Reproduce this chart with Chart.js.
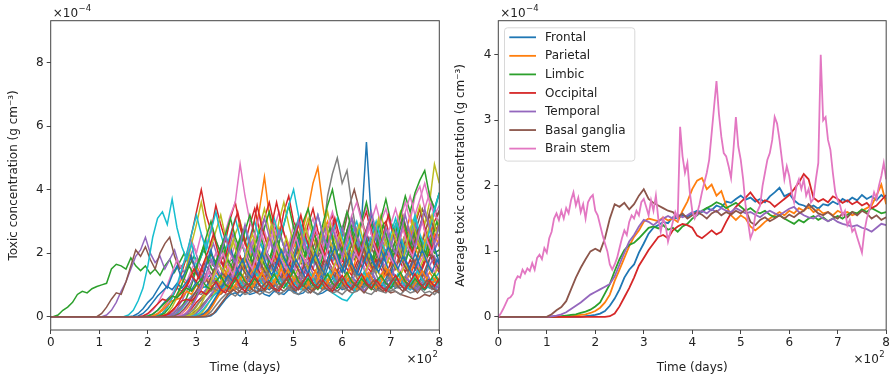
<!DOCTYPE html>
<html>
<head>
<meta charset="utf-8">
<script src="https://cdn.jsdelivr.net/npm/chart.js@4.4.1/dist/chart.umd.min.js"></script>
<style>
  body { margin: 0; background: #fff; }
  #wrap { position: relative; width: 892px; height: 379px; }
  canvas { position: absolute; top: 0; }
  #regions { left: 0; }
  #averages { left: 450px; }
</style>
</head>
<body>
<div id="wrap">
  <canvas id="regions" width="450" height="379"></canvas>
  <canvas id="averages" width="442" height="379"></canvas>
</div>
<script>
Chart.defaults.font.family = "'DejaVu Sans', sans-serif";
Chart.defaults.font.size = 12;
Chart.defaults.color = '#222';

// matplotlib tab10 colour cycle
const tab10 = ['#1f77b4', '#ff7f0e', '#2ca02c', '#d62728', '#9467bd',
               '#8c564b', '#e377c2', '#7f7f7f', '#bcbd22', '#17becf'];

// Axis ticks (days, and concentration in units of 1e-4 g/cm^3)
const dayTicks = [0, 100, 200, 300, 400, 500, 600, 700, 800];
const regionTicks = [0, 2, 4, 6, 8];
const averageTicks = [0, 1, 2, 3, 4];

// Per-region curves: day the toxic load first appears, then values every 10 days after it
const regionStep = 10;
const regionOnsets = [190, 200, 5, 210, 105, 95, 180, 230, 220, 150,
                      320, 250, 240, 260, 230, 270, 200, 280, 290, 240,
                      170, 300, 260, 180, 280, 300, 250, 310, 270, 210,
                      160, 200, 215, 225, 235, 245, 255, 265, 275, 285,
                      295, 305, 190, 220, 260, 315];

const regionValues = [
  [0.02,0.08,0.2,0.38,0.55,0.7,0.9,0.8,1.0,0.85,1.1,0.9,0.95,1.2,1.0,0.85,0.9,1.1,1.3,1.0,
   0.9,0.8,1.0,1.15,0.95,0.85,1.0,1.2,1.4,1.1,0.9,0.85,1.0,0.95,1.2,1.05,0.9,1.1,1.3,1.0,
   0.85,0.9,1.1,1.0,0.9,1.2,1.0,0.85,0.95,1.1,0.9,1.0,1.2,0.95,0.85,1.0,0.9,1.1,0.95,1.0,0.9],
  [0.03,0.1,0.25,0.45,0.7,0.9,1.2,1.0,1.4,1.6,1.3,1.8,2.0,1.6,2.2,1.9,1.5,1.8,2.4,2.0,
   1.7,2.6,3.4,4.4,3.2,2.5,2.8,2.2,1.8,2.4,2.9,2.3,2.0,1.7,2.2,2.6,3.0,2.4,2.0,1.8,
   2.3,2.7,2.1,1.9,2.5,3.1,2.6,2.2,1.8,2.4,2.8,2.2,2.6,3.2,2.5,2.1,2.7,3.0,2.4,2.6],
  [0.05,0.2,0.3,0.45,0.7,0.8,0.75,0.88,0.95,1.0,1.05,1.5,1.65,1.6,1.5,1.85,1.6,1.45,1.6,1.35,
   1.5,1.3,1.6,1.8,1.4,1.7,2.0,1.6,1.9,1.7,2.1,1.8,1.6,1.9,2.2,1.7,1.8,2.0,1.6,1.9,
   2.3,1.8,1.7,2.0,1.8,2.2,1.9,1.6,2.0,2.4,1.9,1.7,2.1,1.8,2.0,2.3,1.8,1.9,2.2,1.7,
   2.0,1.8,2.1,2.4,1.9,1.7,2.0,2.2,1.8,2.1,1.9,2.3,2.0,1.8,2.2,1.9,2.1,2.4,1.9,2.0],
  [0.03,0.1,0.3,0.6,0.9,1.4,1.9,2.6,3.3,4.0,3.2,2.7,3.5,2.9,2.4,3.1,3.6,2.8,2.3,2.9,
   3.4,2.7,3.1,3.6,2.9,2.5,3.3,3.8,3.0,2.6,2.2,2.9,3.4,2.7,2.3,2.8,3.2,2.6,2.1,2.7,
   3.1,2.5,2.9,3.3,2.6,2.2,2.8,3.0,2.4,2.9,3.2,2.6,2.3,2.9,3.4,2.7,2.4,3.0,3.3,2.8],
  [0.05,0.2,0.45,0.8,1.1,1.5,1.9,2.1,2.5,2.0,1.7,1.9,1.5,1.8,2.1,1.6,1.4,1.8,2.2,1.7,
   1.5,1.9,2.3,1.8,1.6,2.0,2.6,2.1,1.7,1.9,2.4,2.0,1.6,2.2,2.7,2.1,1.8,2.3,1.9,1.6,
   2.1,2.5,2.0,1.7,2.3,2.8,2.2,1.9,2.4,2.0,2.6,3.0,2.4,2.0,2.5,2.2,1.8,2.3,2.7,2.1,
   1.9,2.4,2.8,2.2,2.6,3.1,2.5,2.0,2.3,2.6],
  [0.1,0.3,0.55,0.75,0.7,1.1,1.6,2.1,1.9,2.2,1.8,1.5,2.0,2.3,2.5,1.9,1.5,1.7,2.0,1.6,
   1.3,1.7,1.5,1.2,1.6,1.9,1.4,1.2,1.5,1.8,1.4,1.6,2.0,1.5,1.3,1.7,2.1,1.6,1.4,1.8,
   2.2,1.7,1.5,1.9,2.4,1.8,1.6,2.0,2.6,2.2,2.8,3.5,4.0,3.4,2.8,2.4,2.0,2.5,2.1,1.8,
   2.2,2.7,3.2,2.6,2.3,2.9,3.4,3.0,3.6,3.2,3.5],
  [0.02,0.08,0.2,0.4,0.7,1.0,1.4,1.8,1.5,2.0,2.4,2.0,2.6,2.2,2.8,2.4,2.0,2.7,3.2,3.6,
   4.8,3.8,3.0,2.6,3.2,2.7,2.2,2.8,3.3,2.6,2.2,2.9,2.5,2.1,2.7,3.1,2.5,2.0,2.6,3.0,
   2.4,2.8,3.3,2.7,2.3,2.9,3.5,2.8,2.4,3.0,3.4,2.8,2.5,3.1,3.6,3.0,3.8,4.1,3.4,3.9,3.2,3.0],
  [0.02,0.08,0.2,0.35,0.5,0.62,0.75,0.7,0.85,0.8,0.95,0.85,0.9,0.8,0.95,0.9,1.05,0.85,0.95,0.8,
   0.9,1.0,0.85,0.95,1.1,0.9,0.8,0.95,0.85,0.9,1.0,1.4,2.4,3.8,4.5,5.0,4.2,4.6,3.5,2.6,
   1.8,1.2,0.9,1.0,0.85,0.95,0.8,0.9,1.0,0.85,0.95,1.1,0.9,0.85,1.0,0.9,0.95],
  [0.03,0.1,0.3,0.6,1.0,1.6,2.3,2.9,3.6,2.8,2.2,2.7,3.2,2.5,2.0,2.6,3.0,2.4,1.9,2.3,
   2.8,3.4,2.7,2.2,3.0,3.6,2.9,2.3,2.0,2.6,3.1,2.5,2.1,2.7,3.3,2.6,2.2,2.8,2.4,2.0,
   2.5,3.0,2.4,2.1,2.7,3.2,2.6,2.2,2.8,3.3,2.7,2.4,3.0,3.5,2.9,3.6,4.8,4.2],
  [0.05,0.2,0.5,0.9,1.6,2.5,3.1,3.3,2.9,3.7,2.8,2.2,1.8,2.3,1.6,1.9,2.4,1.8,1.5,2.0,
   2.6,2.1,1.7,2.2,2.8,2.2,1.8,2.4,2.0,1.6,2.1,2.7,2.2,1.9,2.5,3.1,2.4,2.0,1.7,2.2,
   2.6,2.1,1.8,2.3,2.8,2.2,1.9,2.4,2.0,1.7,2.2,2.7,2.1,1.8,2.3,2.9,2.4,2.0,2.6,3.1,
   2.5,2.1,2.7,3.3,3.9],
  [0.03,0.15,0.35,0.55,0.7,0.75,0.65,0.8,0.7,0.75,0.85,0.7,0.65,0.8,0.75,0.7,0.85,0.8,0.7,0.75,
   0.9,0.8,0.7,0.75,0.85,0.8,0.9,1.0,1.3,1.8,2.4,3.0,5.5,3.1,2.4,1.8,1.4,1.1,0.9,1.0,
   0.85,0.95,0.8,0.9,0.85,1.0,0.9,0.75],
  [0.02,0.1,0.25,0.45,0.7,0.95,1.2,1.0,1.4,1.2,1.6,1.3,1.1,1.5,1.8,1.4,1.2,1.6,1.3,1.8,
   2.2,1.7,1.4,1.9,2.4,2.0,2.8,3.4,4.2,4.7,3.5,2.6,2.0,1.6,2.1,1.7,1.4,1.9,2.3,1.8,
   1.5,2.0,2.5,1.9,1.6,2.1,1.7,2.2,2.8,2.2,1.8,2.4,2.0,2.6,2.2],
  [0.03,0.12,0.3,0.6,1.0,1.5,2.0,2.5,3.0,2.4,2.0,2.6,3.1,2.5,2.1,2.7,3.2,2.6,2.2,2.8,
   3.3,2.7,2.3,2.9,3.5,2.8,2.4,3.0,3.4,2.7,2.3,2.9,3.5,4.0,3.2,2.7,3.3,2.8,2.4,3.0,
   3.6,2.9,2.5,3.1,3.7,3.0,2.6,3.2,3.8,3.3,3.9,4.3,4.6,3.8,3.4,3.9],
  [0.02,0.1,0.25,0.45,0.6,0.8,1.0,1.2,0.95,1.3,1.1,1.5,1.2,1.0,1.4,1.7,1.3,1.1,1.5,1.8,
   1.4,1.2,1.6,1.9,1.5,1.3,1.7,2.0,1.6,1.3,1.8,1.5,1.2,1.6,1.9,1.5,1.3,1.7,2.1,1.6,
   1.4,1.8,1.5,1.2,1.6,2.0,1.6,1.3,1.7,1.4,1.8,2.2,1.7,1.5],
  [0.03,0.1,0.25,0.5,0.8,1.1,1.5,1.2,1.7,2.0,1.6,1.3,1.8,2.2,1.7,1.4,1.9,2.4,1.8,1.5,
   2.0,2.5,1.9,1.6,2.1,1.7,1.4,1.9,2.3,1.8,1.5,2.0,2.6,2.1,1.7,2.2,2.8,2.2,1.8,2.3,
   1.9,1.6,2.1,2.6,2.0,1.7,2.2,2.7,2.1,1.8,2.3,2.9,2.3,1.9,2.5,2.1,2.4],
  [0.02,0.08,0.2,0.35,0.5,0.65,0.75,0.7,0.85,0.75,0.9,0.8,0.75,0.9,1.0,0.85,0.8,0.95,1.1,0.9,
   0.8,0.95,0.85,1.0,1.15,0.9,0.8,0.95,0.85,1.0,0.9,0.8,0.95,1.05,0.85,0.8,0.95,1.1,0.9,0.8,
   0.95,0.85,0.75,0.8,0.7,0.65,0.6,0.55,0.6,0.7,0.65,0.8,0.75],
  [0.02,0.08,0.2,0.4,0.7,1.0,1.3,1.1,1.5,1.8,1.4,1.2,1.6,2.0,1.5,1.3,1.8,2.3,1.8,1.5,
   2.0,2.6,2.1,1.7,2.2,2.8,2.2,1.8,2.3,1.9,1.6,2.1,2.6,2.0,1.7,2.2,2.8,3.3,2.7,2.2,
   2.7,3.2,3.6,3.0,2.5,3.0,3.5,2.9,2.4,2.9,3.4,2.8,3.3,3.8,3.2,3.7,4.2,3.6,3.2,3.5],
  [0.03,0.12,0.3,0.5,0.7,0.85,0.8,0.95,0.85,1.0,1.15,0.95,0.85,1.05,1.2,1.0,0.9,1.1,1.25,1.0,
   0.9,1.1,0.95,0.85,1.0,1.2,1.0,0.9,1.1,1.3,1.05,0.9,1.0,1.15,0.95,0.85,1.0,1.2,1.0,0.9,
   1.05,1.25,1.0,0.9,1.1,0.95,0.85,1.0,1.15,0.95,0.85,1.0],
  [0.03,0.1,0.3,0.55,0.8,1.0,1.3,1.1,1.5,1.8,1.4,1.2,1.6,2.0,1.6,1.3,1.7,2.2,1.8,1.4,
   1.9,2.4,1.9,1.5,2.0,1.7,1.4,1.8,2.3,1.9,1.5,2.0,2.5,2.0,1.6,2.1,1.7,1.4,1.9,2.4,
   1.9,1.5,2.0,2.6,2.1,1.7,2.2,1.8,2.3,2.9,2.4],
  [0.02,0.1,0.25,0.45,0.65,0.8,1.0,0.9,1.1,1.3,1.0,0.9,1.2,1.4,1.1,0.95,1.2,1.5,1.2,1.0,
   1.3,1.1,0.9,1.2,1.5,1.2,1.0,1.3,1.1,0.9,1.1,1.0,0.85,0.75,0.65,0.55,0.5,0.7,0.9,1.1,
   1.3,1.0,0.9,1.2,1.4,1.1,0.95,1.2,1.0,0.85,1.1,1.3,1.0,0.9,1.2,1.4],
  [0.02,0.1,0.25,0.45,0.65,0.8,0.95,0.85,1.05,0.9,1.1,1.3,1.0,0.9,1.15,1.35,1.1,0.95,1.2,1.45,
   1.15,1.0,1.25,1.1,0.9,1.15,1.4,1.1,0.95,1.2,1.5,1.2,1.0,1.25,1.05,0.9,1.15,1.4,1.1,0.95,
   1.2,1.45,1.15,1.0,1.25,1.1,0.9,1.15,1.4,1.1,0.95,1.2,1.5,1.2,1.0,1.25,1.05,0.9,1.15,1.4,
   1.1,0.95,1.2],
  [0.03,0.15,0.35,0.55,0.75,0.9,0.8,1.0,1.2,0.95,0.85,1.1,1.3,1.0,0.9,1.15,1.4,1.1,0.95,1.2,
   1.0,0.85,1.1,1.35,1.05,0.9,1.15,1.4,1.1,0.95,1.2,1.0,0.85,1.1,1.35,1.05,0.9,1.15,1.45,1.15,
   1.0,1.25,1.05,0.9,1.15,1.4,1.1,0.95,1.2,1.0],
  [0.03,0.12,0.35,0.7,1.1,1.6,2.0,1.7,2.2,1.8,1.5,2.0,2.5,2.0,1.7,2.2,2.7,2.1,1.8,2.3,
   1.9,1.6,2.1,2.6,2.1,1.8,2.3,2.8,2.2,1.9,2.4,2.0,1.7,2.2,2.7,2.2,1.9,2.4,2.0,1.7,
   2.2,2.8,2.3,1.9,2.4,2.0,1.7,2.2,2.7,2.2,1.9,2.4,2.0,2.1],
  [0.02,0.1,0.25,0.4,0.55,0.5,0.65,0.6,0.8,1.0,1.3,1.1,1.5,1.3,1.1,1.5,1.8,1.4,1.2,1.6,
   1.9,1.5,1.3,1.7,1.4,1.2,1.6,2.0,1.6,1.3,1.7,1.4,1.2,1.6,1.9,1.5,1.3,1.7,2.1,1.7,
   1.4,1.8,1.5,1.3,1.7,2.0,1.6,1.4,1.8,1.5,1.3,1.7,2.1,1.7,1.4,1.8,1.5,1.3,1.7,2.0,1.6,1.4],
  [0.02,0.1,0.25,0.45,0.7,0.9,1.1,0.95,1.25,1.5,1.2,1.0,1.35,1.6,1.3,1.1,1.45,1.7,1.35,1.15,
   1.5,1.25,1.05,1.4,1.7,1.35,1.15,1.5,1.8,1.45,1.2,1.55,1.3,1.1,1.45,1.75,1.4,1.2,1.55,1.85,
   1.5,1.25,1.6,1.35,1.15,1.5,1.8,1.45,1.25,1.6,1.9,1.5],
  [0.02,0.1,0.3,0.55,0.85,1.1,1.4,1.2,1.6,1.9,1.5,1.3,1.7,2.1,1.7,1.4,1.8,1.5,1.3,1.7,
   2.2,1.8,1.5,1.9,2.4,1.9,1.6,2.0,1.7,1.4,1.8,2.3,1.9,1.6,2.0,2.5,2.0,1.7,2.1,1.8,
   1.5,1.9,2.4,2.0,1.7,2.1,2.6,3.2,2.7,2.9],
  [0.02,0.1,0.3,0.55,0.8,1.0,1.3,1.1,1.5,1.3,1.1,1.5,1.8,1.4,1.2,1.6,1.9,1.5,1.3,1.7,
   1.4,1.2,1.6,2.0,1.6,1.3,1.7,1.4,1.2,1.6,2.0,1.6,1.4,1.8,1.5,1.3,1.7,2.1,1.7,1.4,
   1.8,1.5,1.3,1.7,2.1,1.7,1.4,1.8,1.5,1.3,1.7,2.0,1.6,1.4,1.8],
  [0.03,0.15,0.35,0.55,0.7,0.75,0.65,0.8,0.7,0.75,0.85,0.7,0.8,0.75,0.85,0.7,0.8,0.9,0.75,0.7,
   0.85,0.75,0.8,0.7,0.85,0.9,0.75,0.8,0.7,0.85,0.75,0.8,0.9,0.75,0.7,0.85,0.8,0.75,0.9,0.8,
   0.7,0.85,0.75,0.8,0.9,0.75,0.8,0.7,0.85],
  [0.02,0.1,0.3,0.55,0.8,1.0,1.2,1.0,1.35,1.6,1.3,1.1,1.45,1.75,1.4,1.2,1.55,1.3,1.1,1.45,
   1.8,1.45,1.2,1.55,1.9,1.5,1.25,1.6,1.35,1.15,1.5,1.85,1.5,1.25,1.6,1.35,1.15,1.5,1.85,1.5,
   1.25,1.6,1.95,1.55,1.3,1.65,1.4,1.2,1.55,1.9,1.5,1.3,1.65],
  [0.03,0.1,0.3,0.6,1.0,1.5,2.0,2.6,3.2,2.6,2.1,2.7,3.3,2.6,2.1,2.6,3.1,2.5,2.0,2.5,
   3.0,2.4,2.0,2.6,3.1,2.5,2.9,3.5,4.0,3.2,2.6,2.2,2.7,3.2,2.6,2.1,2.6,3.1,2.5,2.1,
   2.6,3.0,2.4,2.0,2.5,3.0,2.4,2.0,2.6,3.1,2.5,2.1,2.7,3.2,2.6,2.2,2.8,3.4,3.9],
  [0.02,0.1,0.25,0.45,0.6,0.85,1.1,0.9,1.3,1.6,1.2,1.5,1.9,1.4,1.1,1.6,2.1,1.5,1.2,1.7,
   2.2,1.6,1.3,1.9,1.5,1.2,1.7,2.3,1.8,1.4,1.9,1.5,1.2,1.8,2.4,1.7,1.3,1.9,1.5,1.2,
   1.8,2.3,1.7,1.4,2.0,1.6,1.3,1.9,2.5,1.8,1.5,2.1,1.7,1.3,1.9,2.4,1.8,1.5,2.0,1.6,
   1.3,1.8,2.2,1.7],
  [0.02,0.08,0.2,0.35,0.5,0.55,0.6,0.8,0.7,1.0,0.85,1.2,0.95,0.8,1.1,1.4,1.0,0.85,1.2,0.9,
   1.3,1.6,1.2,0.95,1.3,1.1,0.9,1.25,1.5,1.15,0.95,1.3,1.05,0.85,1.2,1.5,1.1,0.9,1.25,1.0,
   1.35,1.6,1.2,1.0,1.35,1.1,0.9,1.3,1.55,1.15,0.95,1.3,1.05,1.4,1.7,1.3,1.05,1.4,1.15,1.0],
  [0.03,0.12,0.3,0.55,0.85,1.2,1.6,1.3,1.8,2.2,1.7,1.4,1.9,2.4,1.8,1.5,2.1,2.7,2.1,1.7,
   2.2,1.8,1.5,2.0,2.5,2.0,1.7,2.3,2.9,2.3,1.9,2.4,2.0,1.6,2.2,2.8,2.2,1.8,2.4,3.0,
   2.4,2.0,2.6,2.1,1.8,2.3,2.9,2.3,1.9,2.5,3.1,2.5,2.1,2.7,2.2,1.9,2.5,3.0,2.4],
  [0.02,0.1,0.25,0.5,0.8,1.1,1.5,1.2,1.7,2.1,2.6,2.0,1.6,2.2,2.8,3.3,2.6,2.1,2.7,3.5,
   2.8,2.3,2.9,3.6,2.9,2.4,2.0,2.6,3.2,2.5,2.1,2.7,2.3,1.9,2.5,3.1,2.5,2.1,2.7,2.3,
   1.9,2.5,3.0,2.4,2.0,2.6,3.2,2.6,2.2,2.8,2.4,2.0,2.6,3.1,2.5,2.1,2.7,3.2],
  [0.02,0.08,0.2,0.38,0.55,0.7,0.85,0.75,0.95,1.15,0.9,0.8,1.05,1.3,1.0,0.85,1.1,1.35,1.05,0.9,
   1.15,0.95,0.8,1.05,1.3,1.0,0.9,1.15,1.4,1.1,0.95,1.2,1.0,0.85,1.1,1.35,1.05,0.9,1.15,0.95,
   0.8,1.05,1.3,1.0,0.9,1.15,1.4,1.1,0.95,1.2,1.0,0.85,1.1,1.35,1.05,0.9,1.15],
  [0.02,0.1,0.25,0.45,0.7,0.95,1.25,1.05,1.45,1.75,1.35,1.15,1.55,1.9,1.5,1.25,1.65,2.0,1.6,1.3,
   1.7,1.4,1.2,1.6,2.0,1.6,1.3,1.75,2.1,1.7,1.4,1.8,1.5,1.25,1.65,2.05,1.65,1.35,1.75,2.15,
   1.75,1.45,1.85,1.5,1.3,1.7,2.1,1.7,1.4,1.8,1.5,1.25,1.65,2.0,1.6,1.35],
  [0.02,0.08,0.22,0.45,0.75,1.05,1.4,1.2,1.6,2.0,1.6,1.3,1.8,2.3,1.8,1.5,2.0,2.6,2.0,1.7,
   2.2,1.8,1.5,2.0,2.5,2.0,1.7,2.2,2.8,2.2,1.8,2.4,2.0,1.6,2.1,2.7,2.1,1.8,2.3,2.9,
   2.3,1.9,2.5,2.0,1.7,2.2,2.8,2.2,1.9,2.4,3.0,2.4,2.0,2.6,2.1],
  [0.02,0.1,0.25,0.45,0.6,0.75,0.9,0.8,1.0,1.2,0.95,0.85,1.1,1.35,1.05,0.9,1.15,1.4,1.1,0.95,
   1.2,1.0,0.85,1.1,1.35,1.05,0.9,1.15,1.45,1.15,0.95,1.2,1.0,0.85,1.1,1.4,1.1,0.95,1.2,1.5,
   1.15,1.0,1.25,1.05,0.9,1.15,1.4,1.1,0.95,1.2,1.0,0.85,1.1,1.3],
  [0.02,0.1,0.28,0.55,0.9,1.3,1.7,1.4,1.9,2.4,1.9,1.6,2.1,2.6,2.1,1.7,2.3,2.9,2.3,1.9,
   2.5,2.0,1.7,2.2,2.8,2.2,1.8,2.4,3.0,2.4,2.0,2.6,2.1,1.7,2.3,2.9,2.3,1.9,2.5,3.1,
   2.5,2.1,2.7,2.2,1.8,2.4,3.0,2.4,2.0,2.6,3.2,2.6,3.4],
  [0.02,0.1,0.25,0.45,0.65,0.8,0.95,0.85,1.05,1.25,1.0,0.85,1.1,1.35,1.05,0.9,1.15,1.4,1.1,0.95,
   1.2,1.0,0.85,1.1,1.35,1.05,0.9,1.15,1.45,1.15,0.95,1.2,1.0,0.85,1.1,1.4,1.1,0.95,1.2,1.0,
   0.85,1.1,1.35,1.05,0.9,1.15,1.45,1.15,0.95,1.2,1.0,1.3],
  [0.02,0.1,0.25,0.5,0.75,1.0,1.3,1.1,1.5,1.8,1.4,1.2,1.6,2.0,1.6,1.3,1.7,2.1,1.7,1.4,
   1.8,1.5,1.2,1.6,2.0,1.6,1.3,1.8,2.2,1.7,1.4,1.9,1.5,1.3,1.7,2.1,1.7,1.4,1.8,2.2,
   1.8,1.5,1.9,1.6,1.3,1.7,2.1,1.7,1.4,1.8,1.5],
  [0.03,0.15,0.38,0.65,0.85,1.0,0.9,1.1,1.3,1.05,0.9,1.15,1.4,1.1,0.95,1.2,1.5,1.15,1.0,1.25,
   1.05,0.9,1.15,1.45,1.1,0.95,1.2,1.5,1.2,1.0,1.25,1.05,0.9,1.15,1.4,1.1,0.95,1.2,1.5,1.2,
   1.0,1.25,1.05,0.9,1.15,1.45,1.15,1.0,1.25,1.05],
  [0.02,0.08,0.2,0.35,0.5,0.65,0.6,0.75,0.9,0.8,1.0,1.2,0.95,0.85,1.1,1.3,1.0,0.9,1.15,1.4,
   1.1,0.95,1.2,1.0,0.85,1.1,1.35,1.05,0.9,1.15,1.45,1.1,0.95,1.2,1.0,0.85,1.1,1.35,1.05,0.9,
   1.15,1.4,1.1,0.95,1.2,1.0,0.85,1.1,1.3,1.05,0.9,1.15,1.4,1.1,0.95,1.2,1.0,0.85,1.1,1.35,1.05],
  [0.02,0.08,0.2,0.35,0.5,0.55,0.5,0.65,0.8,0.7,0.9,1.1,0.85,0.75,1.0,1.25,0.95,0.8,1.05,1.3,
   1.0,0.85,1.1,0.9,0.8,1.05,1.3,1.0,0.85,1.1,1.35,1.05,0.9,1.15,0.95,0.8,1.05,1.3,1.0,0.85,
   1.1,1.35,1.05,0.9,1.15,0.95,0.8,1.05,1.3,1.0,0.85,1.1,1.35,1.05,0.9,1.15,0.95,1.2],
  [0.02,0.1,0.3,0.6,0.95,1.35,1.8,1.5,2.0,2.5,2.0,1.7,2.3,2.9,2.3,1.9,2.5,3.1,2.5,2.1,
   2.7,2.2,1.9,2.5,3.0,2.4,2.0,2.6,3.2,2.6,2.2,2.8,2.3,1.9,2.5,3.1,2.5,2.1,2.7,3.3,
   2.7,2.2,2.8,2.3,2.0,2.6,3.2,2.6,2.2,2.8,3.4,2.8,2.3,2.9],
  [0.02,0.1,0.3,0.5,0.7,0.85,0.75,0.9,1.05,0.85,0.75,0.95,1.1,0.9,0.8,1.0,1.2,0.95,0.8,1.05,
   0.9,0.75,0.95,1.15,0.9,0.8,1.0,1.2,0.95,0.8,1.05,0.9,0.75,0.95,1.15,0.9,0.8,1.0,1.2,0.95,
   0.8,1.05,0.9,0.75,0.95,1.15,0.9,0.8,1.0]
];

// Lobe averages, sampled every 10 days from day 0
const lobeStep = 10;
const lobeNames = ['Frontal', 'Parietal', 'Limbic', 'Occipital', 'Temporal', 'Basal ganglia', 'Brain stem'];

const frontal = [0,0,0,0,0,0,0,0,0,0,0,0,0,0,0,0,0,0,
  0.01,0.02,0.03,0.05,0.09,0.17,0.28,0.42,0.6,0.72,0.8,0.98,1.12,1.27,1.36,1.4,1.45,1.43,1.52,1.5,
  1.55,1.53,1.58,1.62,1.6,1.66,1.63,1.7,1.67,1.76,1.74,1.8,1.85,1.79,1.82,1.76,1.8,1.75,1.84,1.9,
  1.97,1.84,1.88,1.78,1.72,1.7,1.66,1.7,1.65,1.72,1.7,1.76,1.72,1.8,1.76,1.82,1.78,1.86,1.8,1.84,
  1.78,1.86,1.8];
const parietal = [0,0,0,0,0,0,0,0,0,0,0,0,0,0,0,
  0.01,0.02,0.03,0.04,0.06,0.09,0.14,0.22,0.34,0.55,0.72,0.9,1.08,1.22,1.32,1.45,1.5,1.48,1.46,1.52,
  1.47,1.5,1.45,1.62,1.76,1.95,2.08,2.12,1.95,2.02,1.85,1.92,1.7,1.55,1.48,1.55,1.5,1.38,1.32,1.38,
  1.45,1.5,1.55,1.6,1.55,1.62,1.58,1.66,1.62,1.68,1.6,1.64,1.58,1.6,1.55,1.62,1.58,1.6,1.55,1.58,
  1.62,1.66,1.7,1.85,2.02,1.72];
const limbic = [0,0,0,0,0,0,0,0,0,0,0,0,0,
  0.01,0.02,0.03,0.04,0.06,0.08,0.11,0.16,0.22,0.36,0.5,0.7,0.88,1.02,1.1,1.13,1.2,1.28,1.36,1.38,
  1.35,1.4,1.33,1.36,1.3,1.38,1.42,1.5,1.55,1.62,1.66,1.7,1.75,1.72,1.66,1.7,1.74,1.68,1.62,1.66,
  1.6,1.58,1.62,1.56,1.52,1.55,1.5,1.46,1.42,1.48,1.44,1.5,1.54,1.48,1.52,1.46,1.5,1.54,1.5,1.56,
  1.6,1.58,1.64,1.6,1.66,1.62,1.58,1.6];
const occipital = [0,0,0,0,0,0,0,0,0,0,0,0,0,0,0,0,0,0,0,0,0,0,0,
  0.01,0.05,0.16,0.3,0.44,0.6,0.78,0.9,1.02,1.12,1.22,1.25,1.2,1.32,1.38,1.42,1.4,1.36,1.24,1.2,
  1.26,1.32,1.26,1.3,1.45,1.58,1.68,1.75,1.82,1.9,1.8,1.72,1.78,1.75,1.68,1.74,1.8,1.86,1.95,2.05,
  2.18,2.1,1.82,1.76,1.8,1.75,1.84,1.8,1.74,1.78,1.72,1.76,1.7,1.74,1.66,1.7,1.78,1.86];
const temporal = [0,0,0,0,0,0,0,0,0,0,0,
  0.01,0.02,0.04,0.07,0.12,0.17,0.22,0.28,0.34,0.38,0.42,0.46,0.5,0.62,0.8,0.98,1.15,1.25,1.38,1.48,
  1.45,1.4,1.46,1.5,1.54,1.5,1.56,1.52,1.55,1.6,1.56,1.62,1.58,1.64,1.6,1.66,1.62,1.6,1.66,1.62,
  1.58,1.6,1.56,1.52,1.58,1.62,1.58,1.55,1.6,1.65,1.68,1.6,1.55,1.52,1.5,1.55,1.5,1.46,1.5,1.45,
  1.42,1.4,1.38,1.4,1.36,1.34,1.3,1.36,1.42,1.4];
const basalGanglia = [0,0,0,0,0,0,0,0,0,0,0,
  0.04,0.1,0.15,0.24,0.42,0.6,0.75,0.88,1.0,1.04,1.0,1.2,1.5,1.72,1.68,1.74,1.64,1.72,1.85,1.95,
  1.8,1.74,1.7,1.66,1.62,1.6,1.52,1.58,1.5,1.55,1.6,1.56,1.5,1.58,1.62,1.55,1.6,1.56,1.62,1.58,
  1.64,1.45,1.4,1.48,1.52,1.46,1.5,1.55,1.5,1.56,1.52,1.58,1.62,1.72,1.65,1.58,1.55,1.6,1.54,1.5,
  1.58,1.52,1.6,1.55,1.62,1.58,1.5,1.55,1.48,1.52];

// Brain stem is spikier, so it is sampled every 5 days
const stemStep = 5;
const brainStem = [
  0,0.05,0.12,0.2,0.28,0.3,0.35,0.55,0.62,0.6,0.72,0.66,0.74,0.7,0.82,0.72,0.9,0.95,0.88,1.05,
  0.98,1.2,1.3,1.5,1.58,1.48,1.62,1.5,1.66,1.58,1.78,1.9,1.7,1.82,1.6,1.72,1.5,1.75,1.82,1.86,
  1.62,1.55,1.4,1.25,1.12,1.0,0.8,0.72,0.8,0.9,1.05,1.2,1.32,1.25,1.45,1.55,1.5,1.62,1.55,1.75,
  1.8,1.68,1.55,1.78,1.62,1.85,1.5,1.3,1.5,1.4,1.15,1.3,1.45,1.6,1.5,2.9,2.45,2.2,2.35,1.9,
  1.62,1.5,1.58,1.72,1.9,2.05,2.2,2.4,2.8,3.2,3.6,3.1,2.75,2.5,2.45,2.3,2.12,2.55,3.05,2.6,
  2.4,2.1,1.7,1.45,1.2,1.3,1.55,1.62,1.7,2.0,2.2,2.4,2.5,2.7,3.05,2.95,2.7,2.4,2.1,2.3,
  2.15,1.9,1.75,2.0,2.1,1.95,2.1,1.85,1.95,1.75,1.8,2.1,2.35,4.0,3.0,3.05,2.7,2.55,2.2,1.9,
  1.78,1.7,1.55,1.62,1.4,1.48,1.3,1.35,1.22,1.1,0.98,1.3,1.5,1.62,1.75,1.9,1.8,2.0,2.15,2.35,2.1
];

function regionPoints(onset, values) {
  const pts = [{x: 0, y: 0}, {x: onset, y: 0}];
  values.forEach((v, j) => pts.push({x: onset + regionStep * (j + 1), y: v}));
  return pts;
}

function sampledPoints(values, step) {
  return values.map((v, j) => ({x: j * step, y: v}));
}

// "x10^n" multiplier text, as matplotlib puts next to the axes
function drawPower(ctx, x, baseline, exp, align) {
  ctx.font = "12px 'DejaVu Sans'";
  const bw = ctx.measureText('×10').width;
  ctx.font = "8.5px 'DejaVu Sans'";
  const ew = ctx.measureText(exp).width;
  const left = align === 'right' ? x - bw - ew : x;
  ctx.font = "12px 'DejaVu Sans'";
  ctx.fillText('×10', left, baseline);
  ctx.font = "8.5px 'DejaVu Sans'";
  ctx.fillText(exp, left + bw + 0.5, baseline - 5.5);
}

const frameAndOffsets = {
  id: 'frameAndOffsets',
  afterDatasetsDraw(chart) {
    const {ctx, chartArea} = chart;
    ctx.save();
    ctx.strokeStyle = '#444';
    ctx.lineWidth = 1;
    ctx.strokeRect(chartArea.left, chartArea.top, chartArea.right - chartArea.left, chartArea.bottom - chartArea.top);
    ctx.restore();
  },
  afterDraw(chart, args, opts) {
    const {ctx, chartArea} = chart;
    ctx.save();
    ctx.fillStyle = '#222';
    ctx.textBaseline = 'alphabetic';
    drawPower(ctx, chartArea.left + 2, 16.7, opts.yExp, 'left');
    drawPower(ctx, chartArea.right - 2, 362.7, opts.xExp, 'right');
    ctx.restore();
  }
};

// Legend drawn inside the plot, top-left, like matplotlib's loc='upper left'
const insetLegend = {
  id: 'insetLegend',
  afterDraw(chart, args, opts) {
    if (!opts.display) return;
    const {ctx, chartArea} = chart;
    const sets = chart.data.datasets;
    const x0 = chartArea.left + 5.7;
    const y0 = chartArea.top + 6.6;
    const rowH = 18.55;
    const w = 130.3;
    const h = 10 + rowH * (sets.length - 1) + 12;
    ctx.save();
    ctx.fillStyle = 'rgba(255,255,255,0.8)';
    ctx.strokeStyle = '#d8d8d8';
    ctx.lineWidth = 1;
    ctx.beginPath();
    ctx.roundRect(x0 + 0.5, y0 + 0.5, w, h, 3);
    ctx.fill();
    ctx.stroke();
    ctx.font = "12px 'DejaVu Sans'";
    ctx.textBaseline = 'middle';
    sets.forEach((ds, i) => {
      const cy = y0 + 10 + i * rowH;
      ctx.strokeStyle = ds.borderColor;
      ctx.lineWidth = 1.8;
      ctx.beginPath();
      ctx.moveTo(x0 + 5.3, cy);
      ctx.lineTo(x0 + 32, cy);
      ctx.stroke();
      ctx.fillStyle = '#222';
      ctx.fillText(ds.label, x0 + 41, cy + 0.5);
    });
    ctx.restore();
  }
};

function makeScales(yMin, yMax, yTicks, yTitle, yWidth, yTitlePad) {
  return {
    x: {
      type: 'linear',
      min: 0,
      max: 800,
      afterBuildTicks: s => { s.ticks = dayTicks.map(v => ({value: v})); },
      afterFit: s => { s.height = 49; },
      grid: { drawOnChartArea: false, tickLength: 4, tickColor: '#444' },
      border: { display: false },
      ticks: { padding: 2, maxRotation: 0, autoSkip: false, callback: v => String(v / 100) },
      title: { display: true, text: 'Time (days)', padding: { top: 0, bottom: 4.4 } }
    },
    y: {
      type: 'linear',
      min: yMin,
      max: yMax,
      afterBuildTicks: s => { s.ticks = yTicks.map(v => ({value: v})); },
      afterFit: s => { s.width = yWidth; },
      grid: { drawOnChartArea: false, tickLength: 4, tickColor: '#444' },
      border: { display: false },
      ticks: { padding: 3, autoSkip: false, callback: v => String(v) },
      title: { display: true, text: yTitle, padding: { top: yTitlePad, bottom: 0 } }
    }
  };
}

const baseOptions = {
  responsive: false,
  animation: false,
  events: [],
  elements: { point: { radius: 0 }, line: { borderWidth: 1.5, tension: 0 } }
};

// Left: every region
new Chart(document.getElementById('regions'), {
  type: 'line',
  data: {
    datasets: regionOnsets.map((onset, i) => ({
      label: 'Region ' + (i + 1),
      data: regionPoints(onset, regionValues[i]),
      borderColor: tab10[i % 10],
      order: -i
    }))
  },
  options: {
    ...baseOptions,
    layout: { padding: { top: 20.7, right: 10.7, left: 0, bottom: 0 } },
    scales: makeScales(-0.42, 9.32, regionTicks, 'Toxic concentration (g cm⁻³)', 50.7, 6.4),
    plugins: {
      legend: { display: false },
      tooltip: { enabled: false },
      frameAndOffsets: { xExp: '2', yExp: '−4' },
      insetLegend: { display: false }
    }
  },
  plugins: [frameAndOffsets, insetLegend]
});

// Right: averages per lobe
const lobeSeries = [frontal, parietal, limbic, occipital, temporal, basalGanglia];
const lobeDatasets = lobeSeries.map((vals, i) => ({
  label: lobeNames[i],
  data: sampledPoints(vals, lobeStep),
  borderColor: tab10[i],
  borderWidth: 1.8,
  order: -i
}));
lobeDatasets.push({
  label: lobeNames[6],
  data: sampledPoints(brainStem, stemStep),
  borderColor: tab10[6],
  borderWidth: 1.8,
  order: -6
});

new Chart(document.getElementById('averages'), {
  type: 'line',
  data: { datasets: lobeDatasets },
  options: {
    ...baseOptions,
    layout: { padding: { top: 20.7, right: 5.3, left: 0, bottom: 0 } },
    scales: makeScales(-0.2, 4.52, averageTicks, 'Average toxic concentration (g cm⁻³)', 48.3, 3.9),
    plugins: {
      legend: { display: false },
      tooltip: { enabled: false },
      frameAndOffsets: { xExp: '2', yExp: '−4' },
      insetLegend: { display: true }
    }
  },
  plugins: [frameAndOffsets, insetLegend]
});
</script>
</body>
</html>
